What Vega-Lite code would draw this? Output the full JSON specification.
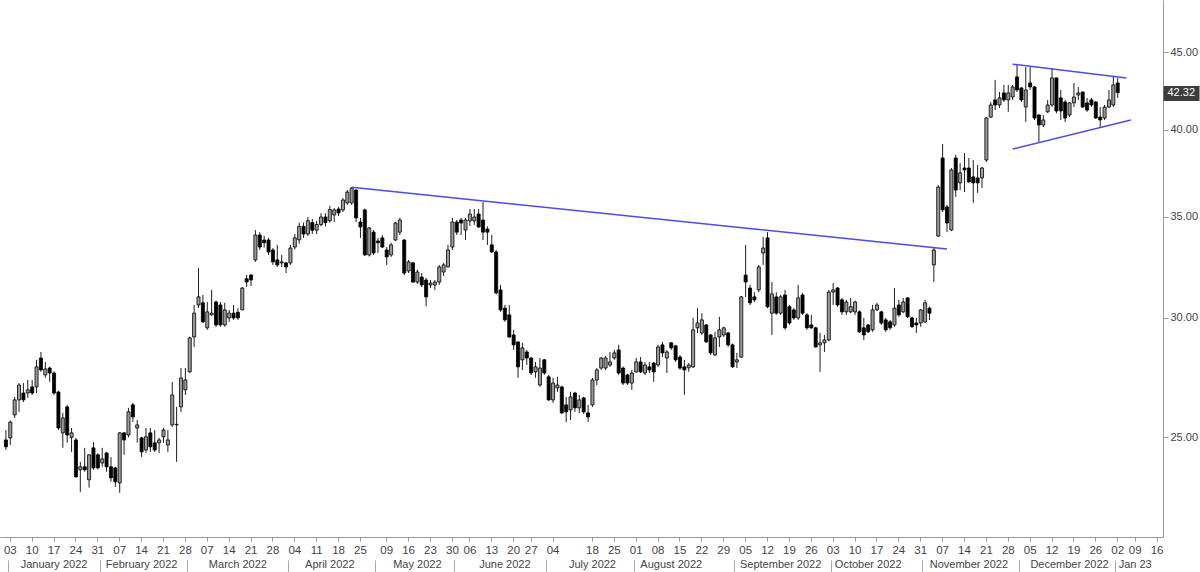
{
  "$schema": "https://vega.github.io/schema/vega-lite/v6.json",
  "width": 1163,
  "height": 537,
  "autosize": {"type": "none"},
  "padding": {"left": 0, "top": 0, "right": 37, "bottom": 35},
  "background": "white",
  "config": {
    "view": {"stroke": null},
    "font": "Liberation Sans, Arial, sans-serif",
    "axis": {"grid": false, "labelFont": "Liberation Sans, Arial, sans-serif"}
  },
  "datasets": {
    "candles": [
      {"date":"2021-12-31","o":24.9,"h":25.28,"l":24.52,"c":24.64},
      {"date":"2022-01-03","o":24.98,"h":25.65,"l":24.71,"c":25.59},
      {"date":"2022-01-04","o":25.87,"h":26.59,"l":25.75,"c":26.47},
      {"date":"2022-01-05","o":26.47,"h":27.16,"l":25.99,"c":27.08},
      {"date":"2022-01-06","o":26.75,"h":27.16,"l":26.39,"c":26.47},
      {"date":"2022-01-07","o":26.75,"h":27.29,"l":26.55,"c":26.88},
      {"date":"2022-01-10","o":27.0,"h":27.29,"l":26.67,"c":26.75},
      {"date":"2022-01-11","o":27.0,"h":28.14,"l":26.75,"c":27.84},
      {"date":"2022-01-12","o":28.22,"h":28.48,"l":27.63,"c":27.71},
      {"date":"2022-01-13","o":27.5,"h":28.05,"l":27.38,"c":27.75},
      {"date":"2022-01-14","o":27.79,"h":27.85,"l":27.21,"c":27.58},
      {"date":"2022-01-17","o":27.58,"h":27.65,"l":26.67,"c":26.75},
      {"date":"2022-01-18","o":26.79,"h":26.85,"l":25.28,"c":25.36},
      {"date":"2022-01-19","o":25.17,"h":25.95,"l":24.6,"c":25.75},
      {"date":"2022-01-20","o":26.19,"h":26.27,"l":24.79,"c":25.09},
      {"date":"2022-01-21","o":25.0,"h":25.36,"l":24.45,"c":25.17},
      {"date":"2022-01-24","o":24.9,"h":24.98,"l":23.5,"c":23.54},
      {"date":"2022-01-25","o":23.79,"h":24.08,"l":23.0,"c":23.9},
      {"date":"2022-01-26","o":23.9,"h":24.6,"l":23.72,"c":23.79},
      {"date":"2022-01-27","o":23.43,"h":24.36,"l":23.15,"c":24.34},
      {"date":"2022-01-28","o":24.6,"h":24.82,"l":23.79,"c":23.86},
      {"date":"2022-01-31","o":24.34,"h":24.4,"l":23.8,"c":23.86},
      {"date":"2022-02-01","o":24.04,"h":24.6,"l":23.9,"c":24.19},
      {"date":"2022-02-02","o":24.41,"h":24.45,"l":23.72,"c":23.9},
      {"date":"2022-02-03","o":23.9,"h":24.26,"l":23.36,"c":23.5},
      {"date":"2022-02-04","o":23.86,"h":23.9,"l":23.18,"c":23.36},
      {"date":"2022-02-07","o":23.32,"h":25.2,"l":22.97,"c":25.17},
      {"date":"2022-02-08","o":25.17,"h":25.2,"l":24.34,"c":24.9},
      {"date":"2022-02-09","o":25.09,"h":26.15,"l":25.0,"c":25.99},
      {"date":"2022-02-10","o":26.27,"h":26.35,"l":25.59,"c":25.79},
      {"date":"2022-02-11","o":25.36,"h":25.67,"l":24.79,"c":25.48},
      {"date":"2022-02-14","o":24.98,"h":25.02,"l":24.26,"c":24.45},
      {"date":"2022-02-15","o":24.52,"h":25.36,"l":24.41,"c":25.02},
      {"date":"2022-02-16","o":25.17,"h":25.36,"l":24.45,"c":24.64},
      {"date":"2022-02-17","o":24.79,"h":25.28,"l":24.45,"c":24.52},
      {"date":"2022-02-18","o":24.79,"h":24.98,"l":24.41,"c":24.9},
      {"date":"2022-02-21","o":25.02,"h":25.36,"l":24.79,"c":25.28},
      {"date":"2022-02-22","o":24.71,"h":25.28,"l":24.45,"c":24.9},
      {"date":"2022-02-23","o":25.48,"h":27.2,"l":25.4,"c":26.67},
      {"date":"2022-02-24","o":25.48,"h":26.19,"l":24.08,"c":25.5},
      {"date":"2022-02-25","o":26.19,"h":27.79,"l":25.99,"c":27.37},
      {"date":"2022-02-28","o":26.88,"h":27.79,"l":26.67,"c":27.29},
      {"date":"2022-03-01","o":27.63,"h":29.15,"l":27.58,"c":29.1},
      {"date":"2022-03-02","o":29.14,"h":30.6,"l":28.7,"c":30.22},
      {"date":"2022-03-03","o":30.6,"h":32.38,"l":30.46,"c":30.98},
      {"date":"2022-03-04","o":30.7,"h":31.07,"l":29.77,"c":29.82},
      {"date":"2022-03-07","o":29.55,"h":30.74,"l":29.46,"c":30.28},
      {"date":"2022-03-08","o":30.14,"h":31.31,"l":30.1,"c":30.22},
      {"date":"2022-03-09","o":30.74,"h":30.8,"l":29.6,"c":29.68},
      {"date":"2022-03-10","o":30.6,"h":30.74,"l":29.6,"c":29.68},
      {"date":"2022-03-11","o":29.68,"h":30.7,"l":29.6,"c":30.37},
      {"date":"2022-03-14","o":30.0,"h":30.37,"l":29.82,"c":30.22},
      {"date":"2022-03-15","o":30.22,"h":30.6,"l":29.91,"c":30.0},
      {"date":"2022-03-16","o":30.26,"h":30.45,"l":29.91,"c":30.0},
      {"date":"2022-03-17","o":30.37,"h":31.45,"l":30.37,"c":31.4},
      {"date":"2022-03-18","o":31.85,"h":32.03,"l":31.45,"c":31.69},
      {"date":"2022-03-21","o":32.03,"h":32.08,"l":31.5,"c":31.79},
      {"date":"2022-03-22","o":32.78,"h":34.31,"l":32.68,"c":34.05},
      {"date":"2022-03-23","o":34.05,"h":34.2,"l":33.28,"c":33.43},
      {"date":"2022-03-24","o":33.79,"h":34.0,"l":33.4,"c":33.65},
      {"date":"2022-03-25","o":33.79,"h":33.9,"l":33.03,"c":33.18},
      {"date":"2022-03-28","o":33.28,"h":33.38,"l":32.53,"c":32.68},
      {"date":"2022-03-29","o":32.78,"h":33.54,"l":32.43,"c":32.53},
      {"date":"2022-03-30","o":32.63,"h":33.03,"l":32.43,"c":32.68},
      {"date":"2022-03-31","o":32.63,"h":32.68,"l":32.13,"c":32.43},
      {"date":"2022-04-01","o":32.63,"h":33.54,"l":32.53,"c":33.38},
      {"date":"2022-04-04","o":33.43,"h":34.1,"l":33.3,"c":33.9},
      {"date":"2022-04-05","o":33.8,"h":34.7,"l":33.6,"c":34.5},
      {"date":"2022-04-06","o":34.5,"h":34.7,"l":33.9,"c":34.1},
      {"date":"2022-04-07","o":34.1,"h":35.0,"l":34.0,"c":34.8},
      {"date":"2022-04-08","o":34.7,"h":34.9,"l":34.1,"c":34.3},
      {"date":"2022-04-11","o":34.3,"h":34.8,"l":34.1,"c":34.6},
      {"date":"2022-04-12","o":34.6,"h":35.2,"l":34.5,"c":35.0},
      {"date":"2022-04-13","o":35.0,"h":35.2,"l":34.5,"c":34.7},
      {"date":"2022-04-14","o":34.8,"h":35.6,"l":34.7,"c":35.4},
      {"date":"2022-04-15","o":35.11,"h":35.48,"l":34.73,"c":35.38},
      {"date":"2022-04-18","o":35.43,"h":35.54,"l":35.05,"c":35.22},
      {"date":"2022-04-19","o":35.38,"h":36.03,"l":35.27,"c":35.92},
      {"date":"2022-04-20","o":35.76,"h":36.47,"l":35.65,"c":36.36},
      {"date":"2022-04-21","o":35.76,"h":36.64,"l":35.65,"c":36.58},
      {"date":"2022-04-22","o":36.47,"h":36.52,"l":34.73,"c":34.95},
      {"date":"2022-04-25","o":34.73,"h":34.95,"l":33.9,"c":34.47},
      {"date":"2022-04-26","o":35.38,"h":35.45,"l":32.98,"c":33.03},
      {"date":"2022-04-27","o":33.03,"h":34.47,"l":32.95,"c":34.42},
      {"date":"2022-04-28","o":34.2,"h":34.31,"l":33.03,"c":33.13},
      {"date":"2022-05-02","o":33.74,"h":33.9,"l":33.13,"c":33.65},
      {"date":"2022-05-06","o":33.9,"h":34.05,"l":33.38,"c":33.43},
      {"date":"2022-05-09","o":33.28,"h":33.43,"l":32.53,"c":32.93},
      {"date":"2022-05-10","o":33.03,"h":33.65,"l":32.93,"c":33.54},
      {"date":"2022-05-11","o":33.79,"h":34.73,"l":33.74,"c":34.68},
      {"date":"2022-05-12","o":34.2,"h":34.95,"l":34.05,"c":34.84},
      {"date":"2022-05-13","o":33.79,"h":33.85,"l":32.03,"c":32.13},
      {"date":"2022-05-16","o":32.23,"h":32.78,"l":32.13,"c":32.68},
      {"date":"2022-05-17","o":32.63,"h":32.68,"l":31.64,"c":31.69},
      {"date":"2022-05-18","o":31.69,"h":32.3,"l":31.6,"c":32.18},
      {"date":"2022-05-19","o":31.93,"h":32.13,"l":31.45,"c":31.55},
      {"date":"2022-05-20","o":31.79,"h":31.9,"l":30.54,"c":30.98},
      {"date":"2022-05-23","o":31.55,"h":31.79,"l":31.4,"c":31.64},
      {"date":"2022-05-24","o":31.55,"h":31.79,"l":31.31,"c":31.69},
      {"date":"2022-05-25","o":31.69,"h":32.53,"l":31.55,"c":32.43},
      {"date":"2022-05-26","o":32.18,"h":32.63,"l":31.98,"c":32.53},
      {"date":"2022-05-27","o":32.43,"h":33.54,"l":32.4,"c":33.28},
      {"date":"2022-05-31","o":33.43,"h":34.95,"l":33.28,"c":34.73},
      {"date":"2022-06-01","o":34.73,"h":34.84,"l":34.05,"c":34.2},
      {"date":"2022-06-02","o":34.84,"h":34.95,"l":34.05,"c":34.68},
      {"date":"2022-06-03","o":34.31,"h":34.95,"l":33.79,"c":34.84},
      {"date":"2022-06-06","o":34.79,"h":35.43,"l":34.52,"c":35.16},
      {"date":"2022-06-07","o":34.79,"h":35.43,"l":34.58,"c":35.0},
      {"date":"2022-06-08","o":35.16,"h":35.43,"l":34.42,"c":34.47},
      {"date":"2022-06-09","o":34.84,"h":35.81,"l":33.79,"c":34.2},
      {"date":"2022-06-10","o":34.36,"h":34.5,"l":33.54,"c":34.2},
      {"date":"2022-06-13","o":33.54,"h":34.05,"l":33.13,"c":33.18},
      {"date":"2022-06-14","o":33.18,"h":33.28,"l":31.1,"c":31.17},
      {"date":"2022-06-15","o":31.31,"h":31.55,"l":30.28,"c":30.37},
      {"date":"2022-06-16","o":30.45,"h":30.6,"l":29.82,"c":29.91},
      {"date":"2022-06-17","o":30.14,"h":30.6,"l":29.1,"c":29.14},
      {"date":"2022-06-21","o":29.23,"h":29.46,"l":28.57,"c":28.79},
      {"date":"2022-06-22","o":28.92,"h":28.95,"l":27.38,"c":27.84},
      {"date":"2022-06-23","o":28.14,"h":28.88,"l":27.71,"c":28.66},
      {"date":"2022-06-24","o":28.48,"h":28.57,"l":27.92,"c":28.22},
      {"date":"2022-06-27","o":28.22,"h":28.26,"l":27.5,"c":27.58},
      {"date":"2022-06-28","o":27.63,"h":28.05,"l":27.38,"c":27.84},
      {"date":"2022-06-29","o":27.08,"h":28.22,"l":27.0,"c":27.79},
      {"date":"2022-06-30","o":28.14,"h":28.18,"l":27.5,"c":27.58},
      {"date":"2022-07-01","o":27.42,"h":27.5,"l":26.43,"c":26.47},
      {"date":"2022-07-05","o":26.47,"h":27.38,"l":26.35,"c":27.16},
      {"date":"2022-07-06","o":26.96,"h":27.42,"l":26.8,"c":27.08},
      {"date":"2022-07-07","o":27.0,"h":27.05,"l":25.9,"c":25.95},
      {"date":"2022-07-08","o":26.27,"h":26.59,"l":25.59,"c":25.99},
      {"date":"2022-07-11","o":26.07,"h":26.8,"l":25.67,"c":26.59},
      {"date":"2022-07-12","o":26.75,"h":26.8,"l":25.99,"c":26.15},
      {"date":"2022-07-13","o":26.15,"h":26.67,"l":25.95,"c":26.47},
      {"date":"2022-07-14","o":26.55,"h":26.6,"l":25.91,"c":25.99},
      {"date":"2022-07-15","o":25.95,"h":26.27,"l":25.59,"c":25.79},
      {"date":"2022-07-18","o":26.27,"h":27.37,"l":26.19,"c":27.29},
      {"date":"2022-07-19","o":27.29,"h":27.79,"l":27.08,"c":27.71},
      {"date":"2022-07-20","o":27.79,"h":28.26,"l":27.71,"c":28.22},
      {"date":"2022-07-21","o":27.79,"h":28.3,"l":27.7,"c":28.22},
      {"date":"2022-07-22","o":27.92,"h":28.48,"l":27.84,"c":28.05},
      {"date":"2022-07-25","o":28.22,"h":28.57,"l":28.14,"c":28.44},
      {"date":"2022-07-26","o":28.57,"h":28.79,"l":27.5,"c":27.58},
      {"date":"2022-07-27","o":27.79,"h":27.85,"l":27.08,"c":27.16},
      {"date":"2022-07-28","o":27.5,"h":27.55,"l":27.08,"c":27.16},
      {"date":"2022-07-29","o":27.16,"h":27.71,"l":26.88,"c":27.58},
      {"date":"2022-08-01","o":27.63,"h":28.22,"l":27.58,"c":28.05},
      {"date":"2022-08-02","o":28.05,"h":28.26,"l":27.58,"c":27.63},
      {"date":"2022-08-03","o":27.58,"h":28.05,"l":27.5,"c":27.92},
      {"date":"2022-08-04","o":27.84,"h":28.05,"l":27.58,"c":27.71},
      {"date":"2022-08-05","o":28.0,"h":28.05,"l":27.21,"c":27.63},
      {"date":"2022-08-08","o":27.92,"h":28.79,"l":27.84,"c":28.7},
      {"date":"2022-08-09","o":28.79,"h":28.92,"l":28.26,"c":28.44},
      {"date":"2022-08-10","o":28.22,"h":28.57,"l":27.58,"c":28.48},
      {"date":"2022-08-11","o":28.88,"h":28.92,"l":28.57,"c":28.66},
      {"date":"2022-08-12","o":28.75,"h":28.79,"l":28.05,"c":28.14},
      {"date":"2022-08-15","o":28.26,"h":28.35,"l":27.71,"c":27.79},
      {"date":"2022-08-16","o":27.84,"h":28.14,"l":26.67,"c":27.71},
      {"date":"2022-08-17","o":27.8,"h":28.0,"l":27.63,"c":27.92},
      {"date":"2022-08-18","o":27.84,"h":30.0,"l":27.79,"c":29.46},
      {"date":"2022-08-19","o":29.55,"h":30.45,"l":29.32,"c":29.77},
      {"date":"2022-08-22","o":29.32,"h":30.22,"l":29.23,"c":29.91},
      {"date":"2022-08-23","o":29.68,"h":29.72,"l":28.88,"c":28.92},
      {"date":"2022-08-24","o":29.23,"h":29.28,"l":28.35,"c":28.44},
      {"date":"2022-08-25","o":28.35,"h":29.37,"l":28.3,"c":29.1},
      {"date":"2022-08-26","o":29.14,"h":30.05,"l":28.7,"c":29.46},
      {"date":"2022-08-29","o":29.23,"h":29.6,"l":29.14,"c":29.55},
      {"date":"2022-08-30","o":29.32,"h":29.37,"l":28.7,"c":28.79},
      {"date":"2022-08-31","o":28.79,"h":28.85,"l":27.8,"c":27.84},
      {"date":"2022-09-01","o":28.05,"h":28.44,"l":27.79,"c":28.14},
      {"date":"2022-09-02","o":28.26,"h":31.02,"l":28.22,"c":30.98},
      {"date":"2022-09-05","o":32.03,"h":33.54,"l":30.98,"c":31.69},
      {"date":"2022-09-06","o":31.4,"h":31.55,"l":30.6,"c":30.7},
      {"date":"2022-09-07","o":30.98,"h":31.2,"l":30.74,"c":30.84},
      {"date":"2022-09-08","o":31.31,"h":32.53,"l":31.2,"c":32.43},
      {"date":"2022-09-09","o":33.13,"h":33.95,"l":32.53,"c":33.38},
      {"date":"2022-09-12","o":33.9,"h":34.2,"l":30.45,"c":30.52},
      {"date":"2022-09-13","o":30.22,"h":31.69,"l":29.23,"c":31.12},
      {"date":"2022-09-14","o":30.98,"h":31.2,"l":30.14,"c":30.22},
      {"date":"2022-09-15","o":30.22,"h":31.07,"l":30.14,"c":30.98},
      {"date":"2022-09-16","o":31.07,"h":31.31,"l":29.46,"c":29.55},
      {"date":"2022-09-19","o":30.52,"h":30.6,"l":29.68,"c":29.77},
      {"date":"2022-09-20","o":30.37,"h":30.45,"l":29.91,"c":30.0},
      {"date":"2022-09-21","o":30.0,"h":31.55,"l":29.91,"c":30.93},
      {"date":"2022-09-22","o":31.07,"h":31.17,"l":30.14,"c":30.22},
      {"date":"2022-09-23","o":30.14,"h":30.22,"l":29.46,"c":29.55},
      {"date":"2022-09-26","o":29.68,"h":30.14,"l":29.5,"c":29.55},
      {"date":"2022-09-27","o":29.55,"h":29.6,"l":28.66,"c":28.7},
      {"date":"2022-09-28","o":28.79,"h":29.32,"l":27.63,"c":28.88},
      {"date":"2022-09-29","o":28.88,"h":29.23,"l":28.48,"c":29.01},
      {"date":"2022-09-30","o":29.01,"h":31.31,"l":28.95,"c":31.21},
      {"date":"2022-10-03","o":31.21,"h":31.64,"l":30.6,"c":31.31},
      {"date":"2022-10-04","o":31.4,"h":31.45,"l":30.52,"c":30.6},
      {"date":"2022-10-05","o":30.84,"h":30.93,"l":30.14,"c":30.28},
      {"date":"2022-10-06","o":30.28,"h":30.84,"l":30.14,"c":30.74},
      {"date":"2022-10-07","o":30.28,"h":30.93,"l":30.22,"c":30.52},
      {"date":"2022-10-10","o":30.28,"h":30.8,"l":30.14,"c":30.74},
      {"date":"2022-10-11","o":30.28,"h":30.35,"l":29.32,"c":29.37},
      {"date":"2022-10-12","o":29.55,"h":30.0,"l":29.01,"c":29.23},
      {"date":"2022-10-13","o":29.68,"h":29.72,"l":29.32,"c":29.37},
      {"date":"2022-10-14","o":29.46,"h":30.6,"l":29.37,"c":30.37},
      {"date":"2022-10-17","o":30.37,"h":30.7,"l":30.33,"c":30.6},
      {"date":"2022-10-18","o":30.28,"h":30.33,"l":29.68,"c":29.77},
      {"date":"2022-10-19","o":29.91,"h":30.0,"l":29.37,"c":29.46},
      {"date":"2022-10-20","o":29.82,"h":29.91,"l":29.46,"c":29.55},
      {"date":"2022-10-21","o":29.68,"h":31.4,"l":29.6,"c":30.45},
      {"date":"2022-10-24","o":30.6,"h":30.84,"l":30.05,"c":30.14},
      {"date":"2022-10-25","o":30.28,"h":30.93,"l":30.22,"c":30.74},
      {"date":"2022-10-26","o":30.93,"h":30.98,"l":30.0,"c":30.05},
      {"date":"2022-10-27","o":30.0,"h":30.05,"l":29.55,"c":29.6},
      {"date":"2022-10-28","o":29.77,"h":30.0,"l":29.32,"c":29.68},
      {"date":"2022-10-31","o":29.77,"h":30.4,"l":29.6,"c":30.37},
      {"date":"2022-11-01","o":29.82,"h":30.84,"l":29.77,"c":30.7},
      {"date":"2022-11-02","o":30.45,"h":30.52,"l":29.91,"c":30.22},
      {"date":"2022-11-03","o":32.53,"h":33.38,"l":31.69,"c":33.28},
      {"date":"2022-11-04","o":34.0,"h":36.75,"l":33.95,"c":36.64},
      {"date":"2022-11-07","o":38.3,"h":39.13,"l":35.27,"c":35.38},
      {"date":"2022-11-08","o":35.54,"h":35.65,"l":34.2,"c":34.68},
      {"date":"2022-11-09","o":34.31,"h":37.72,"l":34.25,"c":37.61},
      {"date":"2022-11-10","o":38.3,"h":38.48,"l":36.09,"c":36.47},
      {"date":"2022-11-11","o":36.87,"h":38.0,"l":36.47,"c":37.44},
      {"date":"2022-11-14","o":37.72,"h":38.6,"l":36.36,"c":37.61},
      {"date":"2022-11-15","o":37.72,"h":38.3,"l":36.87,"c":36.93},
      {"date":"2022-11-16","o":37.21,"h":38.18,"l":35.76,"c":36.87},
      {"date":"2022-11-17","o":37.15,"h":37.89,"l":36.31,"c":36.87},
      {"date":"2022-11-18","o":37.15,"h":37.78,"l":36.58,"c":37.72},
      {"date":"2022-11-21","o":38.18,"h":40.77,"l":38.07,"c":40.71},
      {"date":"2022-11-22","o":40.77,"h":41.72,"l":40.71,"c":41.53},
      {"date":"2022-11-23","o":41.85,"h":43.15,"l":41.21,"c":41.53},
      {"date":"2022-11-24","o":41.53,"h":42.36,"l":41.34,"c":41.98},
      {"date":"2022-11-25","o":42.3,"h":42.82,"l":41.72,"c":41.85},
      {"date":"2022-11-28","o":41.85,"h":42.82,"l":41.1,"c":42.3},
      {"date":"2022-11-29","o":42.04,"h":42.82,"l":41.85,"c":42.69},
      {"date":"2022-11-30","o":43.35,"h":44.14,"l":42.36,"c":42.49},
      {"date":"2022-12-01","o":42.62,"h":42.69,"l":41.72,"c":41.85},
      {"date":"2022-12-02","o":41.4,"h":44.0,"l":40.46,"c":42.49},
      {"date":"2022-12-05","o":42.95,"h":44.0,"l":42.49,"c":42.69},
      {"date":"2022-12-06","o":42.69,"h":42.75,"l":40.59,"c":40.71},
      {"date":"2022-12-07","o":40.9,"h":40.95,"l":39.25,"c":40.28},
      {"date":"2022-12-08","o":40.28,"h":40.9,"l":40.16,"c":40.59},
      {"date":"2022-12-09","o":41.1,"h":41.85,"l":41.02,"c":41.53},
      {"date":"2022-12-12","o":41.53,"h":43.94,"l":41.4,"c":43.28},
      {"date":"2022-12-13","o":43.28,"h":43.3,"l":41.0,"c":41.15},
      {"date":"2022-12-14","o":41.98,"h":42.49,"l":40.59,"c":41.15},
      {"date":"2022-12-15","o":41.72,"h":41.85,"l":40.46,"c":40.71},
      {"date":"2022-12-16","o":40.9,"h":41.72,"l":40.77,"c":41.66},
      {"date":"2022-12-19","o":41.66,"h":42.95,"l":41.4,"c":42.04},
      {"date":"2022-12-20","o":42.17,"h":42.69,"l":41.85,"c":42.3},
      {"date":"2022-12-21","o":42.36,"h":42.4,"l":41.34,"c":41.4},
      {"date":"2022-12-22","o":41.66,"h":41.98,"l":41.1,"c":41.21},
      {"date":"2022-12-23","o":41.85,"h":41.98,"l":41.4,"c":41.53},
      {"date":"2022-12-26","o":41.72,"h":41.78,"l":40.65,"c":40.71},
      {"date":"2022-12-27","o":40.77,"h":41.4,"l":40.16,"c":40.59},
      {"date":"2022-12-28","o":40.71,"h":41.53,"l":40.59,"c":41.4},
      {"date":"2022-12-29","o":41.4,"h":42.49,"l":41.34,"c":41.85},
      {"date":"2022-12-30","o":41.53,"h":43.35,"l":41.4,"c":42.82},
      {"date":"2023-01-03","o":42.95,"h":43.28,"l":41.98,"c":42.32}
    ],
    "trend": [
      {"line":"a","date":"2022-04-21","price":36.62},
      {"line":"a","date":"2022-11-08","price":33.33},
      {"line":"b","date":"2022-11-29","price":44.2},
      {"line":"b","date":"2023-01-05","price":43.28},
      {"line":"c","date":"2022-11-29","price":38.83},
      {"line":"c","date":"2023-01-06","price":40.59}
    ]
  },
  "layer": [
    {
      "data": {"name": "candles"},
      "mark": {"type": "rule", "color": "#1e1e1e", "strokeWidth": 1},
      "encoding": {
        "x": {
          "field": "date", "type": "ordinal",
          "scale": {
            "type": "band", "paddingInner": 0.3, "paddingOuter": 1.2,
            "domain": ["2021-12-31","2022-01-03","2022-01-04","2022-01-05","2022-01-06","2022-01-07","2022-01-10","2022-01-11","2022-01-12","2022-01-13","2022-01-14","2022-01-17","2022-01-18","2022-01-19","2022-01-20","2022-01-21","2022-01-24","2022-01-25","2022-01-26","2022-01-27","2022-01-28","2022-01-31","2022-02-01","2022-02-02","2022-02-03","2022-02-04","2022-02-07","2022-02-08","2022-02-09","2022-02-10","2022-02-11","2022-02-14","2022-02-15","2022-02-16","2022-02-17","2022-02-18","2022-02-21","2022-02-22","2022-02-23","2022-02-24","2022-02-25","2022-02-28","2022-03-01","2022-03-02","2022-03-03","2022-03-04","2022-03-07","2022-03-08","2022-03-09","2022-03-10","2022-03-11","2022-03-14","2022-03-15","2022-03-16","2022-03-17","2022-03-18","2022-03-21","2022-03-22","2022-03-23","2022-03-24","2022-03-25","2022-03-28","2022-03-29","2022-03-30","2022-03-31","2022-04-01","2022-04-04","2022-04-05","2022-04-06","2022-04-07","2022-04-08","2022-04-11","2022-04-12","2022-04-13","2022-04-14","2022-04-15","2022-04-18","2022-04-19","2022-04-20","2022-04-21","2022-04-22","2022-04-25","2022-04-26","2022-04-27","2022-04-28","2022-05-02","2022-05-06","2022-05-09","2022-05-10","2022-05-11","2022-05-12","2022-05-13","2022-05-16","2022-05-17","2022-05-18","2022-05-19","2022-05-20","2022-05-23","2022-05-24","2022-05-25","2022-05-26","2022-05-27","2022-05-31","2022-06-01","2022-06-02","2022-06-03","2022-06-06","2022-06-07","2022-06-08","2022-06-09","2022-06-10","2022-06-13","2022-06-14","2022-06-15","2022-06-16","2022-06-17","2022-06-21","2022-06-22","2022-06-23","2022-06-24","2022-06-27","2022-06-28","2022-06-29","2022-06-30","2022-07-01","2022-07-05","2022-07-06","2022-07-07","2022-07-08","2022-07-11","2022-07-12","2022-07-13","2022-07-14","2022-07-15","2022-07-18","2022-07-19","2022-07-20","2022-07-21","2022-07-22","2022-07-25","2022-07-26","2022-07-27","2022-07-28","2022-07-29","2022-08-01","2022-08-02","2022-08-03","2022-08-04","2022-08-05","2022-08-08","2022-08-09","2022-08-10","2022-08-11","2022-08-12","2022-08-15","2022-08-16","2022-08-17","2022-08-18","2022-08-19","2022-08-22","2022-08-23","2022-08-24","2022-08-25","2022-08-26","2022-08-29","2022-08-30","2022-08-31","2022-09-01","2022-09-02","2022-09-05","2022-09-06","2022-09-07","2022-09-08","2022-09-09","2022-09-12","2022-09-13","2022-09-14","2022-09-15","2022-09-16","2022-09-19","2022-09-20","2022-09-21","2022-09-22","2022-09-23","2022-09-26","2022-09-27","2022-09-28","2022-09-29","2022-09-30","2022-10-03","2022-10-04","2022-10-05","2022-10-06","2022-10-07","2022-10-10","2022-10-11","2022-10-12","2022-10-13","2022-10-14","2022-10-17","2022-10-18","2022-10-19","2022-10-20","2022-10-21","2022-10-24","2022-10-25","2022-10-26","2022-10-27","2022-10-28","2022-10-31","2022-11-01","2022-11-02","2022-11-03","2022-11-04","2022-11-07","2022-11-08","2022-11-09","2022-11-10","2022-11-11","2022-11-14","2022-11-15","2022-11-16","2022-11-17","2022-11-18","2022-11-21","2022-11-22","2022-11-23","2022-11-24","2022-11-25","2022-11-28","2022-11-29","2022-11-30","2022-12-01","2022-12-02","2022-12-05","2022-12-06","2022-12-07","2022-12-08","2022-12-09","2022-12-12","2022-12-13","2022-12-14","2022-12-15","2022-12-16","2022-12-19","2022-12-20","2022-12-21","2022-12-22","2022-12-23","2022-12-26","2022-12-27","2022-12-28","2022-12-29","2022-12-30","2023-01-03","2023-01-04","2023-01-05","2023-01-06","2023-01-09","2023-01-10","2023-01-11","2023-01-12","2023-01-13","2023-01-16"]
          },
          "axis": {
            "orient": "bottom",
            "title": null,
            "values": ["2022-01-03","2022-01-10","2022-01-17","2022-01-24","2022-01-31","2022-02-07","2022-02-14","2022-02-21","2022-02-28","2022-03-07","2022-03-14","2022-03-21","2022-03-28","2022-04-04","2022-04-11","2022-04-18","2022-04-25","2022-05-09","2022-05-16","2022-05-23","2022-05-31","2022-06-06","2022-06-13","2022-06-21","2022-06-27","2022-07-05","2022-07-18","2022-07-25","2022-08-01","2022-08-08","2022-08-15","2022-08-22","2022-08-29","2022-09-05","2022-09-12","2022-09-19","2022-09-26","2022-10-03","2022-10-10","2022-10-17","2022-10-24","2022-10-31","2022-11-07","2022-11-14","2022-11-21","2022-11-28","2022-12-05","2022-12-12","2022-12-19","2022-12-26","2023-01-03","2023-01-09","2023-01-16"],
            "labelExpr": "utcFormat(toDate(datum.value) - (utcday(toDate(datum.value)) - 1) * 86400000, '%d')",
            "labelAngle": 0,
            "labelOverlap": false,
            "labelFontSize": 11.5,
            "labelColor": "#444444",
            "labelPadding": 3,
            "tickSize": 4,
            "tickColor": "#999999",
            "domainColor": "#999999"
          }
        },
        "y": {
          "field": "l", "type": "quantitative",
          "scale": {"type": "log", "domain": [21.47, 48.75], "nice": false, "zero": false},
          "axis": {
            "orient": "right",
            "title": null,
            "values": [25, 30, 35, 40, 45],
            "format": ".2f",
            "tickSize": 5,
            "tickColor": "#999999",
            "domainColor": "#999999",
            "labelColor": "#444444",
            "labelFontSize": 11,
            "labelPadding": 2
          }
        },
        "y2": {"field": "h"}
      }
    },
    {
      "data": {"name": "candles"},
      "mark": {"type": "bar", "stroke": "#000000", "strokeWidth": 0.8},
      "encoding": {
        "x": {
          "field": "date", "type": "ordinal",
          "axis": {
            "orient": "bottom",
            "title": null,
            "values": ["2022-01-17","2022-02-14","2022-03-16","2022-04-14","2022-05-18","2022-06-16","2022-07-18","2022-08-11","2022-09-15","2022-10-13","2022-11-15","2022-12-16","2023-01-09"],
            "labelExpr": "datum.value >= '2023' ? 'Jan 23' : utcFormat(toDate(datum.value), '%B %Y')",
            "domain": false,
            "ticks": false,
            "tickSize": 0,
            "labelAngle": 0,
            "labelOverlap": false,
            "labelFontSize": 11,
            "labelColor": "#444444",
            "labelPadding": 21
          }
        },
        "y": {
          "field": "o", "type": "quantitative",
          "axis": {
            "orient": "right",
            "title": null,
            "values": [42.32],
            "format": ".2f",
            "domain": false,
            "tickSize": 36,
            "tickWidth": 15,
            "tickCap": "butt",
            "tickColor": "#3c3c3c",
            "labelPadding": -32,
            "labelAlign": "left",
            "labelColor": "#ffffff",
            "labelFontSize": 11,
            "zindex": 3
          }
        },
        "y2": {"field": "c"},
        "fill": {
          "condition": {"test": "datum.c >= datum.o", "value": "#9a9a9a"},
          "value": "#000000"
        }
      }
    },
    {
      "data": {"name": "trend"},
      "mark": {"type": "line", "color": "#4b4be8", "strokeWidth": 1.5},
      "encoding": {
        "x": {
          "field": "date", "type": "ordinal",
          "axis": {
            "orient": "bottom",
            "title": null,
            "values": ["2022-01-03","2022-02-01","2022-03-01","2022-04-01","2022-05-02","2022-06-01","2022-07-01","2022-08-01","2022-09-01","2022-10-03","2022-11-01","2022-12-01","2023-01-03"],
            "offset": 23,
            "domain": false,
            "labels": false,
            "tickSize": 12,
            "tickColor": "#aaaaaa",
            "bandPosition": -0.2
          }
        },
        "y": {"field": "price", "type": "quantitative", "axis": null},
        "detail": {"field": "line"}
      }
    }
  ],
  "resolve": {"axis": {"x": "independent", "y": "independent"}}
}
